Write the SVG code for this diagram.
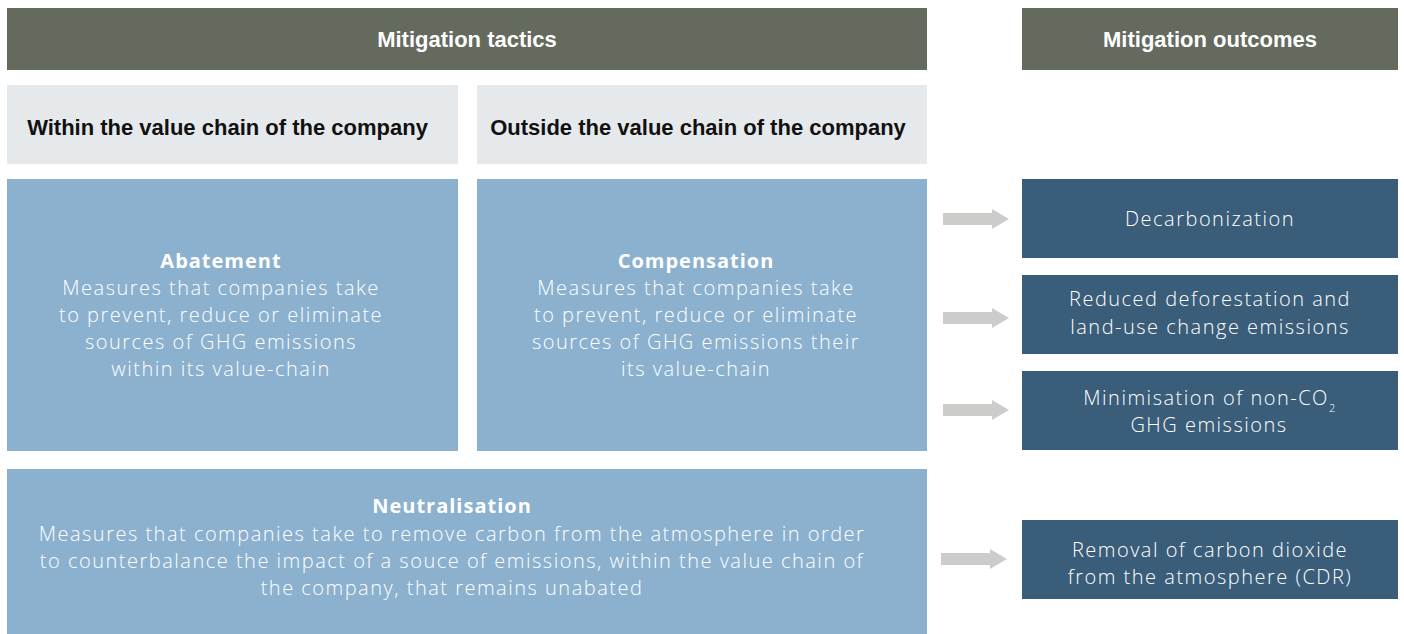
<svg xmlns="http://www.w3.org/2000/svg" width="1404" height="634" viewBox="0 0 1404 634">
<style>
.hdr{fill:#646a5e}
.sub{fill:#e6e9ec}
.lb{fill:#8bb1cf}
.db{fill:#3a5d7a}
.ht{font-family:"Liberation Sans",Arial,sans-serif;font-size:22px;fill:#fff;text-anchor:middle;font-weight:bold}
.st{font-family:"Liberation Sans",Arial,sans-serif;font-size:22px;fill:#111;text-anchor:middle;font-weight:bold}
.bt{font-family:"Open Sans",Lato,sans-serif;font-size:20px;letter-spacing:1.5px;fill:#fff;text-anchor:middle;font-weight:300}
.bt .b{font-weight:700;letter-spacing:1px}
.ar{fill:#cccccb}
</style>
<g id="hdr-tactics"><rect class="hdr" x="7" y="8" width="920" height="62"/><text class="ht" x="467" y="47">Mitigation tactics</text></g>
<g id="hdr-outcomes"><rect class="hdr" x="1022" y="8" width="376" height="62"/><text class="ht" x="1210" y="47">Mitigation outcomes</text></g>
<g id="within"><rect class="sub" x="7" y="85" width="451" height="79"/><text class="st" x="227.5" y="135">Within the value chain of the company</text></g>
<g id="outside"><rect class="sub" x="477" y="85" width="450" height="79"/><text class="st" x="698" y="135">Outside the value chain of the company</text></g>
<g id="abatement"><rect class="lb" x="7" y="179" width="451" height="272"/>
<text class="bt" x="221"><tspan class="b" x="221" y="268">Abatement</tspan><tspan x="221" y="295">Measures that companies take</tspan><tspan x="221" y="322">to prevent, reduce or eliminate</tspan><tspan x="221" y="349">sources of GHG emissions</tspan><tspan x="221" y="376">within its value-chain</tspan></text></g>
<g id="compensation"><rect class="lb" x="477" y="179" width="450" height="272"/>
<text class="bt" x="696"><tspan class="b" x="696" y="268">Compensation</tspan><tspan x="696" y="295">Measures that companies take</tspan><tspan x="696" y="322">to prevent, reduce or eliminate</tspan><tspan x="696" y="349">sources of GHG emissions their</tspan><tspan x="696" y="376">its value-chain</tspan></text></g>
<g id="neutralisation"><rect class="lb" x="7" y="469" width="920" height="165"/>
<text class="bt" x="452"><tspan class="b" x="452" y="513">Neutralisation</tspan><tspan x="452" y="541">Measures that companies take to remove carbon from the atmosphere in order</tspan><tspan x="452" y="568">to counterbalance the impact of a souce of emissions, within the value chain of</tspan><tspan x="452" y="595">the company, that remains unabated</tspan></text></g>
<g id="decarbonization"><rect class="db" x="1022" y="179" width="376" height="79"/><text class="bt" x="1210" y="226">Decarbonization</text></g>
<g id="deforestation"><rect class="db" x="1022" y="275" width="376" height="79"/><text class="bt" x="1210"><tspan x="1210" y="306">Reduced deforestation and</tspan><tspan x="1210" y="334">land-use change emissions</tspan></text></g>
<g id="nonco2"><rect class="db" x="1022" y="371" width="376" height="79"/><text class="bt" x="1210"><tspan x="1210" y="405">Minimisation of non-CO<tspan font-size="11" dy="7">2</tspan></tspan><tspan x="1209" y="432">GHG emissions</tspan></text></g>
<g id="cdr"><rect class="db" x="1022" y="520" width="376" height="79"/><text class="bt" x="1210"><tspan x="1210" y="557">Removal of carbon dioxide</tspan><tspan x="1210" y="584">from the atmosphere (CDR)</tspan></text></g>
<g id="connectors">
<path class="ar" d="M943 213h49v-4l17 10-17 10v-4h-49z"/>
<path class="ar" d="M943 312h49v-4l17 10-17 10v-4h-49z"/>
<path class="ar" d="M943 404h49v-4l17 10-17 10v-4h-49z"/>
<path class="ar" d="M941 553h49v-4l17 10-17 10v-4h-49z"/>
</g>
</svg>
